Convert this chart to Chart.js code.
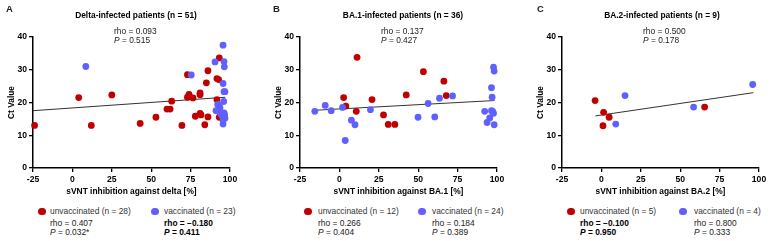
<!DOCTYPE html>
<html>
<head>
<meta charset="utf-8">
<script src="https://cdn.jsdelivr.net/npm/chart.js@4/dist/chart.umd.min.js"></script>
<style>
    body { margin: 0; width: 770px; height: 241px; background: #fff; overflow: hidden; position: relative; font-family: "Liberation Sans", Arial, sans-serif; color: #222; }
    canvas { position: absolute; top: 0; }
    .t { position: absolute; white-space: nowrap; line-height: 1; }
    .panel-label { font-weight: bold; font-size: 9.5px; top: 4px; }
    .title { font-weight: bold; font-size: 8.4px; top: 11px; transform: translateX(-50%); color: #000; }
    .stat { font-size: 8.4px; line-height: 9px; }
    .legend { font-size: 8.4px; top: 207px; color: #333; }
    .dot { position: absolute; width: 7.5px; height: 7.5px; border-radius: 50%; top: 207.5px; }
    .b { font-weight: bold; color: #000; }
</style>
</head>
<body>
<canvas id="chart-a" width="240" height="200" style="left:0px"></canvas>
<canvas id="chart-b" width="240" height="200" style="left:267px"></canvas>
<canvas id="chart-c" width="240" height="200" style="left:529px"></canvas>

<div class="t panel-label" style="left:6px">A</div>
<div class="t panel-label" style="left:273px">B</div>
<div class="t panel-label" style="left:537px">C</div>

<div class="t title" style="left:136px">Delta-infected patients (n = 51)</div>
<div class="t title" style="left:403px">BA.1-infected patients (n = 36)</div>
<div class="t title" style="left:662px">BA.2-infected patients (n = 9)</div>

<div class="t stat" style="left:114px; top:27px">rho = 0.093<br><i>P</i> = 0.515</div>
<div class="t stat" style="left:381px; top:27px">rho = 0.137<br><i>P</i> = 0.427</div>
<div class="t stat" style="left:643px; top:27px">rho = 0.500<br><i>P</i> = 0.178</div>

<span class="dot" style="left:38px; background:#c00000"></span>
<div class="t legend" style="left:50px">unvaccinated (n = 28)</div>
<span class="dot" style="left:151px; background:#6060ff"></span>
<div class="t legend" style="left:164px">vaccinated (n = 23)</div>
<div class="t stat" style="left:50px; top:219px">rho = 0.407<br><i>P</i> = 0.032*</div>
<div class="t stat b" style="left:164px; top:219px">rho = &minus;0.180<br><i>P</i> = 0.411</div>

<span class="dot" style="left:304px; background:#c00000"></span>
<div class="t legend" style="left:318px">unvaccinated (n = 12)</div>
<span class="dot" style="left:418px; background:#6060ff"></span>
<div class="t legend" style="left:432px">vaccinated (n = 24)</div>
<div class="t stat" style="left:318px; top:219px">rho = 0.266<br><i>P</i> = 0.404</div>
<div class="t stat" style="left:432px; top:219px">rho = 0.184<br><i>P</i> = 0.389</div>

<span class="dot" style="left:567px; background:#c00000"></span>
<div class="t legend" style="left:580px">unvaccinated (n = 5)</div>
<span class="dot" style="left:679px; background:#6060ff"></span>
<div class="t legend" style="left:694px">vaccinated (n = 4)</div>
<div class="t stat b" style="left:580px; top:219px">rho = &minus;0.100<br><i>P</i> = 0.950</div>
<div class="t stat" style="left:694px; top:219px">rho = 0.800<br><i>P</i> = 0.333</div>

<script>
const xTicks = [-25, 0, 25, 50, 75, 100];
const yTicks = [0, 10, 20, 30, 40];

// panel A: delta
const deltaUnvaccX = [-24, 4, 25, 12, 43, 53, 60, 62, 63, 69.5, 73, 73, 74, 76.5, 78, 81, 81, 81, 81.6, 84, 85, 86, 86, 91.7, 92.8, 91.7, 93.2, 93.2];
const deltaUnvaccY = [13, 21.5, 22.3, 13, 13.6, 15.5, 18, 18, 20.4, 13, 28.5, 21.6, 22.5, 21.4, 15.8, 22.9, 22.4, 16.7, 16.2, 13.2, 26, 29.7, 15.6, 27.3, 27, 20.9, 33.6, 15.5];
const deltaVaccX = [8.5, 75.4, 90.5, 95.6, 96.2, 96.4, 95.6, 96.2, 96.8, 96, 91.1, 92.2, 93, 93.6, 93.6, 94.3, 96.2, 96.6, 95.3, 95.8, 95.6, 95.6, 96.8];
const deltaVaccY = [31, 28.4, 32.4, 37.5, 32.5, 30.9, 25.8, 23.3, 23.3, 20.3, 17.5, 19.4, 19, 18.5, 17.8, 16.4, 16.8, 16.2, 15.8, 15.2, 14.6, 13.4, 15.2];
const deltaFitX = [-25, 97];
const deltaFitY = [17.5, 21.6];

// panel B: BA.1
const ba1UnvaccX = [2.7, 4.1, 11.2, 10.7, 20.7, 28, 31, 35.2, 42.4, 53.3, 66.3, 67.8];
const ba1UnvaccY = [21.5, 18.9, 33.8, 17.3, 20.9, 16.2, 13.3, 13.3, 22.3, 29.4, 26.5, 22.1];
const ba1VaccX = [-15.6, -9, -5.2, 2, 3.7, 7.6, 9.9, 19.7, 49.9, 56.3, 60.5, 63.5, 71.8, 92.2, 93.7, 95.4, 96.5, 96.9, 97.3, 97.8, 97.8, 98.2, 98.2, 96.5];
const ba1VaccY = [17.3, 19.1, 17.5, 18.5, 8.4, 14.6, 13.2, 17.8, 15.5, 19.7, 15.6, 21.3, 22, 17.3, 13.9, 15.3, 24.5, 21.6, 17.2, 16.7, 30.8, 29.6, 13.2, 17.5];
const ba1FitX = [-16.5, 98.4];
const ba1FitY = [17.6, 20.6];

// panel C: BA.2
const ba2UnvaccX = [-4, 1.4, 1, 4.9, 65.5];
const ba2UnvaccY = [20.6, 17, 12.9, 15.5, 18.6];
const ba2VaccX = [9.1, 15, 58.5, 96];
const ba2VaccY = [13.4, 22.1, 18.6, 25.5];
const ba2FitX = [-3.8, 96.4];
const ba2FitY = [15.9, 23];

const xTitles = ["sVNT inhibition against delta [%]", "sVNT inhibition against BA.1 [%]", "sVNT inhibition against BA.2 [%]"];

const red = "#c00000";
const blue = "#6060ff";

function init() {
    createPanel("chart-a", deltaUnvaccX, deltaUnvaccY, deltaVaccX, deltaVaccY, deltaFitX, deltaFitY, xTitles[0]);
    createPanel("chart-b", ba1UnvaccX, ba1UnvaccY, ba1VaccX, ba1VaccY, ba1FitX, ba1FitY, xTitles[1]);
    createPanel("chart-c", ba2UnvaccX, ba2UnvaccY, ba2VaccX, ba2VaccY, ba2FitX, ba2FitY, xTitles[2]);
}

function toPoints(xs, ys) {
    return xs.map((x, i) => ({x: x, y: ys[i]}));
}

function createPanel(canvasId, ux, uy, vx, vy, fx, fy, xTitle) {
    const ctx = document.getElementById(canvasId).getContext("2d");
    const tickFont = {family: "Liberation Sans", size: 8.6, weight: "bold"};
    const titleFont = {family: "Liberation Sans", size: 8.4, weight: "bold"};

    new Chart(ctx, {
        type: "scatter",
        data: {
            datasets: [
                {
                    type: "line",
                    data: toPoints(fx, fy),
                    borderColor: "#333",
                    borderWidth: 1,
                    pointRadius: 0,
                    order: 3
                },
                {
                    data: toPoints(ux, uy),
                    backgroundColor: red,
                    borderWidth: 0,
                    pointRadius: 3.4,
                    clip: false,
                    order: 2
                },
                {
                    data: toPoints(vx, vy),
                    backgroundColor: blue,
                    borderWidth: 0,
                    pointRadius: 3.4,
                    clip: false,
                    order: 1
                }
            ]
        },
        options: {
            responsive: false,
            animation: false,
            layout: {padding: {top: 37, right: 10, left: 0, bottom: 0}},
            plugins: {
                legend: {display: false},
                tooltip: {enabled: false}
            },
            scales: {
                x: {
                    type: "linear",
                    min: xTicks[0],
                    max: xTicks[xTicks.length - 1],
                    afterBuildTicks: scale => { scale.ticks = xTicks.map(v => ({value: v})); },
                    ticks: {color: "#000", font: tickFont, padding: 2, maxRotation: 0},
                    grid: {drawOnChartArea: false, tickLength: 4, color: "#000", lineWidth: 1.3},
                    border: {color: "#000", width: 1.5},
                    title: {display: true, text: xTitle, color: "#000", font: titleFont, padding: {top: 0, bottom: 3}},
                    afterFit: scale => { scale.height = 32; }
                },
                y: {
                    type: "linear",
                    min: yTicks[0],
                    max: yTicks[yTicks.length - 1],
                    afterBuildTicks: scale => { scale.ticks = yTicks.map(v => ({value: v})); },
                    ticks: {color: "#000", font: tickFont, padding: 2},
                    grid: {drawOnChartArea: false, tickLength: 4, color: "#000", lineWidth: 1.3},
                    border: {color: "#000", width: 1.5},
                    title: {display: true, text: "Ct Value", color: "#000", font: titleFont, padding: {top: 7, bottom: 0}},
                    afterFit: scale => { scale.width = 33; }
                }
            }
        }
    });
}

init();
</script>
</body>
</html>
